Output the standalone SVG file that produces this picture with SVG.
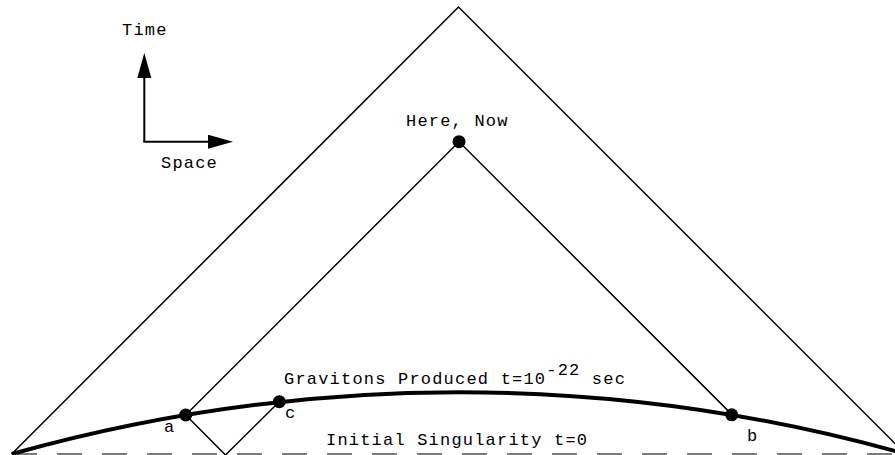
<svg xmlns="http://www.w3.org/2000/svg" width="895" height="455" viewBox="0 0 895 455">
  <defs>
    <style>
      .thin { fill: none; stroke: #000; stroke-width: 1.5; }
      .thick { fill: none; stroke: #000; stroke-width: 4; }
      .axis { fill: none; stroke: #000; stroke-width: 2; }
      .dash { fill: none; stroke: #7a7a7a; stroke-width: 2; stroke-dasharray: 25 20; }
      .dot { fill: #000; }
      .lbl { font-family: "Liberation Mono", "Courier New", monospace; font-size: 17px; letter-spacing: 1.2px; fill: #000; }
    </style>
    <marker id="head" markerUnits="userSpaceOnUse" markerWidth="26" markerHeight="15" refX="0" refY="7" orient="auto">
      <path d="M0,0 L25,7 L0,14 z" fill="#000"/>
    </marker>
  </defs>
  <rect width="895" height="455" fill="#fff"/>

  <g id="connectors">
    <line id="axis-time" class="axis" x1="144.3" y1="142" x2="144.3" y2="78" marker-end="url(#head)"/>
    <line id="axis-space" class="axis" x1="143.3" y1="141.7" x2="208" y2="141.7" marker-end="url(#head)"/>
    <line id="singularity-line" class="dash" x1="12" y1="454" x2="895" y2="454"/>
    <polyline id="outer-cone" class="thin" points="11.7,454 458.5,7 905,453.5"/>
    <polyline id="past-cone" class="thin" points="185.7,415 459,141.7 731.7,414.4"/>
    <polyline id="zigzag" class="thin" points="185.7,415 225.5,455 279.3,401.7"/>
    <path id="graviton-surface" class="thick" d="M11.7,454 A1648.5,1648.5 0 0 1 905.7,454"/>
  </g>

  <g id="node-time"><text class="lbl" x="122" y="35">Time</text></g>
  <g id="node-space"><text class="lbl" x="161" y="168">Space</text></g>
  <g id="node-here-now">
    <circle class="dot" cx="459" cy="141.7" r="6.5"/>
    <text class="lbl" x="406" y="126">Here, Now</text>
  </g>
  <g id="node-a">
    <circle class="dot" cx="185.7" cy="415" r="6.5"/>
    <text class="lbl" x="164" y="432">a</text>
  </g>
  <g id="node-c">
    <circle class="dot" cx="279.3" cy="401.7" r="6.5"/>
    <text class="lbl" x="285" y="418">c</text>
  </g>
  <g id="node-b">
    <circle class="dot" cx="731.7" cy="414.8" r="6.5"/>
    <text class="lbl" x="747" y="441">b</text>
  </g>
  <g id="label-gravitons">
    <text class="lbl" x="284" y="384">Gravitons Produced t=10<tspan dy="-9">-22</tspan><tspan dy="9"> sec</tspan></text>
  </g>
  <g id="label-singularity">
    <text class="lbl" x="326" y="445">Initial Singularity t=0</text>
  </g>
</svg>
